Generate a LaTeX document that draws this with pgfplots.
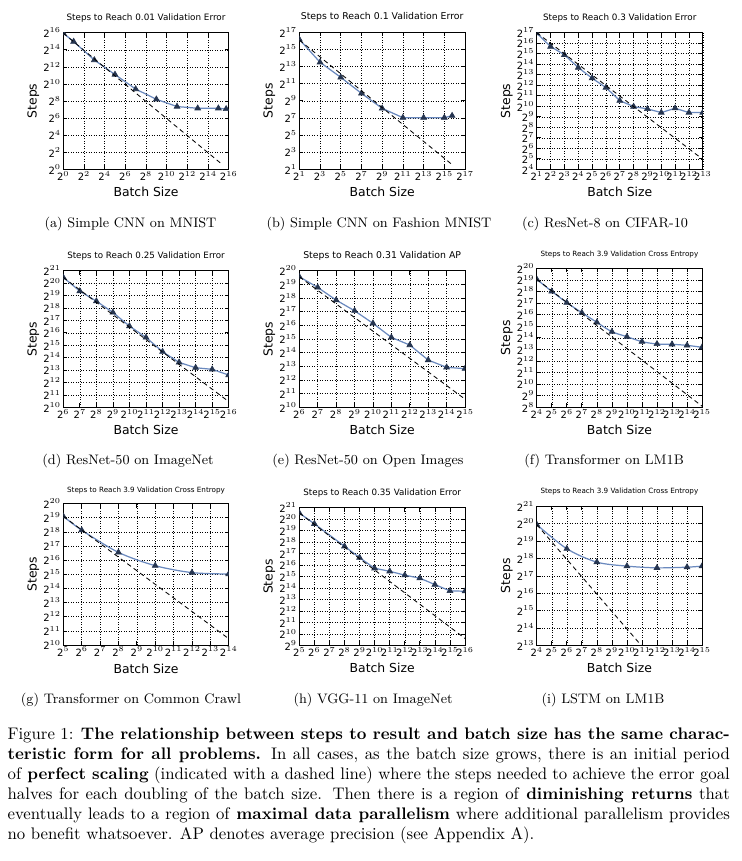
\documentclass[border=0pt]{standalone}
\usepackage{fontspec}
\usepackage{pgfplots}
\pgfplotsset{compat=1.18}
\newfontfamily\dv{DejaVu Sans}
\definecolor{lineblue}{RGB}{106,137,190}
\definecolor{markblue}{RGB}{38,53,80}

% all values in log2 units: x = log2(batch size), y = log2(steps)
\pgfplotsset{
  panel/.style={
    scale only axis, anchor=north west,
    xmajorgrids, ymajorgrids,
    major grid style={black, line width=0.35pt, dash pattern=on 0.45pt off 1.2pt},
    axis line style={black, line width=0.6pt},
    tick style={black, line width=0.45pt},
    major tick length=2.6pt,
    tick align=inside,
    tick label style={font=\dv\fontsize{6.54}{7}\selectfont},
    xticklabel={2\textsuperscript{\pgfmathprintnumber{\tick}}},
    yticklabel={2\textsuperscript{\pgfmathprintnumber{\tick}}},
    xticklabel style={inner sep=1pt},
    yticklabel style={inner sep=1.4pt},
    xlabel={Batch Size}, ylabel={Steps},
    every axis x label/.style={at={(axis description cs:0.5,-0.165)}, anchor=center,
      font=\dv\fontsize{8.1}{9}\selectfont},
    every axis y label/.style={at={(axis description cs:-0.181,0.5)}, rotate=90, anchor=center,
      font=\dv\fontsize{8.1}{9}\selectfont},
    title style={at={(axis description cs:0.5,1)}, anchor=base, yshift=2.3pt,
      font=\dv\fontsize{5.75}{6}\selectfont, inner sep=0pt},
    clip marker paths=true,
  },
  steps/.style={color=lineblue, line width=0.8pt, mark=triangle*, mark size=2.2pt,
    mark options={fill=markblue, draw=markblue, line width=0.4pt}},
  ideal/.style={black, line width=0.55pt, dash pattern=on 3pt off 2.2pt},
}
\tikzset{sub/.style={font=\fontsize{9}{11}\selectfont, anchor=center, inner sep=0pt}}

\begin{document}
\begin{tikzpicture}
\path (0,0) rectangle (484.3pt,-562.7pt);

% (a)
\begin{axis}[panel, at={(41.37pt,-21.37pt)}, width=108.11pt, height=89.28pt,
  xmin=0, xmax=16, ymin=0, ymax=16,
  xtick={0,2,...,16}, ytick={0,2,...,16},
  title={Steps to Reach 0.01 Validation Error}]
\addplot[steps] coordinates {(0,15.94) (1,14.96) (3,12.8) (5,11.1) (7,9.4) (9,8.2)
  (11,7.35) (13,7.15) (15,7.15) (15.75,7.07)};
\addplot[ideal] coordinates {(0,15.94) (15.34,0.6)};
\end{axis}

% (b)
\begin{axis}[panel, at={(195.62pt,-21.11pt)}, width=108.30pt, height=89.54pt,
  xmin=1, xmax=17, ymin=1, ymax=17,
  xtick={1,3,...,17}, ytick={1,3,...,17},
  title style={font=\dv\fontsize{6.1}{7}\selectfont},
  title={Steps to Reach 0.1 Validation Error}]
\addplot[steps] coordinates {(1,16.17) (3,13.5) (5,11.74) (7,9.87) (9,8.12)
  (11,7.03) (13,7.03) (15,7.03) (15.75,7.26)};
\addplot[ideal] coordinates {(1,16.1) (15.75,1.55)};
\end{axis}

% (c)
\begin{axis}[panel, at={(350.79pt,-21.37pt)}, width=108.50pt, height=89.28pt,
  xmin=1, xmax=13, ymin=4, ymax=17,
  xtick={1,...,13}, ytick={4,...,17},
  title={Steps to Reach 0.3 Validation Error}]
\addplot[steps] coordinates {(1,16.95) (2,15.68) (3,14.9) (4,13.68) (5,12.67) (6,11.78)
  (7,10.54) (8,9.97) (9,9.75) (10,9.4) (11,9.81) (12,9.4) (13,9.4)};
\addplot[ideal] coordinates {(1,17) (13,4.95)};
\end{axis}

% (d)
\begin{axis}[panel, at={(41.37pt,-176.93pt)}, width=108.11pt, height=89.28pt,
  xmin=6, xmax=16, ymin=10, ymax=21,
  xtick={6,...,16}, ytick={10,...,21},
  title style={font=\dv\fontsize{5.7}{6}\selectfont},
  title={Steps to Reach 0.25 Validation Error}]
\addplot[steps] coordinates {(6,20.46) (7,19.36) (8,18.55) (9,17.64) (10,16.54) (11,15.63)
  (12,14.48) (13,13.62) (14,13.19) (15,13.06) (16,12.6)};
\addplot[ideal] coordinates {(6,20.46) (16,10.46)};
\end{axis}

% (e)
\begin{axis}[panel, at={(195.62pt,-176.93pt)}, width=108.30pt, height=89.28pt,
  xmin=6, xmax=15, ymin=10, ymax=20,
  xtick={6,...,15}, ytick={10,...,20},
  title style={font=\dv\fontsize{6.1}{7}\selectfont},
  title={Steps to Reach 0.31 Validation AP}]
\addplot[steps] coordinates {(6,19.56) (7,18.78) (8,17.85) (9,17.07) (10,16.15) (11,15.12)
  (12,14.56) (13,13.46) (14,12.93) (15,12.83)};
\addplot[ideal] coordinates {(6,19.56) (15,10.6)};
\end{axis}

% (f)
\begin{axis}[panel, at={(350.79pt,-175.36pt)}, width=108.04pt, height=90.85pt,
  xmin=4, xmax=15, ymin=8, ymax=20,
  xtick={4,...,15}, ytick={8,...,20},
  title style={font=\dv\fontsize{4.7}{5}\selectfont, yshift=-0.3pt},
  title={Steps to Reach 3.9 Validation Cross Entropy}]
\addplot[steps, smooth] coordinates {(4,19.05) (5,18.01) (6,17.04) (7,16.17) (8,15.34) (9,14.53)
  (10,14.1) (11,13.67) (12,13.47) (13,13.44) (14,13.35) (15,13.18)};
\addplot[ideal] coordinates {(4,19.05) (15,8.1)};
\end{axis}

% (g)
\begin{axis}[panel, at={(41.37pt,-329.09pt)}, width=108.11pt, height=92.48pt,
  xmin=5, xmax=14, ymin=10, ymax=20,
  xtick={5,...,14}, ytick={10,...,20},
  title style={font=\dv\fontsize{4.7}{5}\selectfont, yshift=-1.3pt},
  title={Steps to Reach 3.9 Validation Cross Entropy}]
\addplot[steps, smooth] coordinates {(5,19.1) (6,18.12) (8,16.55) (10,15.61) (12,15.12) (14,15.02)};
\addplot[ideal] coordinates {(5,19.1) (14,10.45)};
\end{axis}

% (h)
\begin{axis}[panel, at={(195.62pt,-331.83pt)}, width=108.30pt, height=89.94pt,
  xmin=5, xmax=16, ymin=9, ymax=21,
  xtick={5,...,16}, ytick={9,...,21},
  title style={font=\dv\fontsize{5.7}{6}\selectfont},
  title={Steps to Reach 0.35 Validation Error}]
\addplot[steps] coordinates {(5,20.54) (6,19.6) (8,17.64) (9,16.65) (10,15.72) (11,15.46)
  (12,15.12) (13,14.86) (14,14.3) (15,13.75) (16,13.72)};
\addplot[ideal] coordinates {(5,20.54) (16,9.6)};
\end{axis}

% (i)
\begin{axis}[panel, at={(350.79pt,-330.92pt)}, width=108.04pt, height=90.85pt,
  xmin=4, xmax=15, ymin=13, ymax=21,
  xtick={4,...,15}, ytick={13,...,21},
  title style={font=\dv\fontsize{4.7}{5}\selectfont},
  title={Steps to Reach 3.9 Validation Cross Entropy}]
\addplot[steps, smooth] coordinates {(4,19.95) (6,18.56) (8,17.79) (10,17.56) (12,17.46)
  (14,17.5) (15,17.56)};
\addplot[ideal] coordinates {(4,19.95) (10.95,13)};
\end{axis}

\node[sub] at (85.3pt,-146.4pt) {(a) Simple CNN on MNIST};
\node[sub] at (247.7pt,-146.4pt) {(b) Simple CNN on Fashion MNIST};
\node[sub] at (395.4pt,-146.4pt) {(c) ResNet-8 on CIFAR-10};
\node[sub] at (83.7pt,-301.1pt) {(d) ResNet-50 on ImageNet};
\node[sub] at (240.5pt,-301.1pt) {(e) ResNet-50 on Open Images};
\node[sub] at (394.8pt,-301.1pt) {(f) Transformer on LM1B};
\node[sub] at (85.6pt,-457.5pt) {(g) Transformer on Common Crawl};
\node[sub] at (243.8pt,-457.5pt) {(h) VGG-11 on ImageNet};
\node[sub] at (394.1pt,-457.5pt) {(i) LSTM on LM1B};

\node[anchor=north west, inner sep=0pt, text width=472pt, align=justify,
  font=\fontsize{10.95}{13.07}\selectfont] at (4.8pt,-475.6pt)
{Figure 1: \textbf{The relationship between steps to result and batch size has the same charac-}\linebreak
\textbf{teristic form for all problems.} In all cases, as the batch size grows, there is an initial period\linebreak
of \textbf{perfect scaling} (indicated with a dashed line) where the steps needed to achieve the error goal\linebreak
halves for each doubling of the batch size. Then there is a region of \textbf{diminishing returns} that\linebreak
eventually leads to a region of \textbf{maximal data parallelism} where additional parallelism provides\linebreak
no benefit whatsoever. AP denotes average precision (see Appendix A).};
\end{tikzpicture}
\end{document}
